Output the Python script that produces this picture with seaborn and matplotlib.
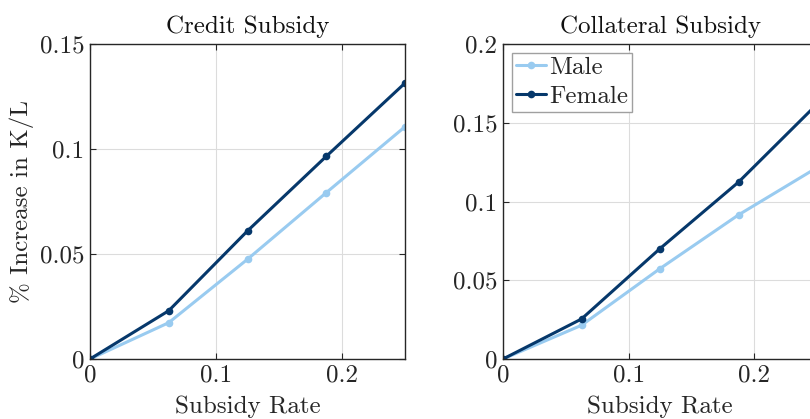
import numpy as np
import pandas as pd
import matplotlib
matplotlib.use("Agg")
import matplotlib.pyplot as plt
import seaborn as sns

# ---- data ----
subsidy_rate = [0.0, 0.0625, 0.125, 0.1875, 0.25]
credit_male = [0.0, 0.0173, 0.0475, 0.0792, 0.1106]
credit_female = [0.0, 0.0230, 0.0610, 0.0965, 0.1314]
collat_male = [0.0, 0.0214, 0.0574, 0.0915, 0.1215]
collat_female = [0.0, 0.0254, 0.0701, 0.1123, 0.1618]
groups = ["Male", "Female"]
titles = ["Credit Subsidy", "Collateral Subsidy"]
xticks = [0, 0.1, 0.2]
xticklabels = ["0", "0.1", "0.2"]
yticks_credit = [0, 0.05, 0.1, 0.15]
yticklabels_credit = ["0", "0.05", "0.1", "0.15"]
yticks_collat = [0, 0.05, 0.1, 0.15, 0.2]
yticklabels_collat = ["0", "0.05", "0.1", "0.15", "0.2"]
colors = {"Male": "#99CBF0", "Female": "#06386B"}

def make_df(male, female):
    return pd.DataFrame({
        "x": subsidy_rate * 2,
        "y": list(male) + list(female),
        "Gender": ["Male"] * len(male) + ["Female"] * len(female),
    })

sns.set_theme(style="whitegrid")
plt.rcParams["font.family"] = ["cmr10", "DejaVu Serif"]
plt.rcParams["mathtext.fontset"] = "cm"
plt.rcParams["axes.formatter.use_mathtext"] = True

fig = plt.figure(figsize=(8.10, 4.19), dpi=100)
W, H = 810, 419
ax1 = fig.add_axes([90 / W, (H - 359) / H, 315 / W, 315 / H])
ax2 = fig.add_axes([503 / W, (H - 359) / H, 314 / W, 315 / H])

panels = [
    (ax1, make_df(credit_male, credit_female), yticks_credit, yticklabels_credit, 0.15),
    (ax2, make_df(collat_male, collat_female), yticks_collat, yticklabels_collat, 0.2),
]

fs = 18
for i, (ax, df, yt, ytl, ymax) in enumerate(panels):
    sns.lineplot(data=df, x="x", y="y", hue="Gender", hue_order=groups,
                 palette=colors, marker="o", markersize=5.5, markeredgewidth=0,
                 linewidth=2.2, ax=ax, legend=(i == 1))
    ax.set_xlim(0, 0.25)
    ax.set_ylim(0, ymax)
    ax.set_xticks(xticks)
    ax.set_xticklabels(xticklabels)
    ax.set_yticks(yt)
    ax.set_yticklabels(ytl)
    ax.set_facecolor("white")
    ax.grid(True, color="#DCDCDC", linewidth=0.8)
    for s in ax.spines.values():
        s.set_visible(True)
        s.set_color("#262626")
        s.set_linewidth(1.0)
    ax.tick_params(axis="both", direction="in", length=4, width=0.8,
                   colors="#262626", labelsize=fs, top=True, right=True,
                   bottom=True, left=True, pad=4)
    ax.set_title(titles[i], fontsize=fs, pad=8, color="#111111")
    ax.set_xlabel("Subsidy Rate", fontsize=fs, labelpad=6, color="#262626")
    if i == 0:
        ax.set_ylabel("% Increase in K/L", fontsize=fs, labelpad=4, color="#262626")
    else:
        ax.set_ylabel("")

leg = ax2.legend(loc="upper left", fontsize=fs, frameon=True, fancybox=False,
                 edgecolor="#A0A0A0", framealpha=1, borderpad=0.15,
                 handlelength=1.2, handletextpad=0.15, labelspacing=0.25,
                 borderaxespad=0.35, title=None)
leg.get_frame().set_linewidth(1.0)

fig.savefig("out.png", dpi=100)
